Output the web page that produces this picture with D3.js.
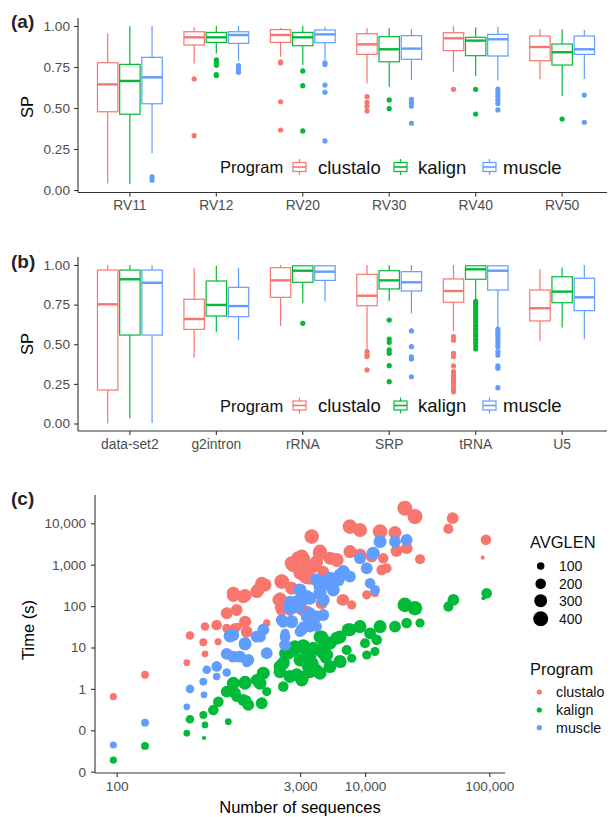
<!DOCTYPE html>
<html><head><meta charset="utf-8">
<script src="https://cdn.jsdelivr.net/npm/d3@7"></script>
<style>
body{margin:0;background:#fff}
svg{display:block}
text{font-family:"Liberation Sans",Arial,Helvetica,sans-serif}
</style>
</head><body><svg id="c" width="612" height="817"></svg>
<script>
// ---------------- DATA ----------------
const programs = ["clustalo", "kalign", "muscle"];
const colors = ["#F8766D", "#00BA38", "#619CFF"];

const catsA = ["RV11", "RV12", "RV20", "RV30", "RV40", "RV50"];
const catsB = ["data-set2", "g2intron", "rRNA", "SRP", "tRNA", "U5"];
const spTicks = [0, 0.25, 0.5, 0.75, 1];
const spTickLabels = ["0.00", "0.25", "0.50", "0.75", "1.00"];

// box stats: [whiskerLow, q1, median, q3, whiskerHigh]
const statsA_clustalo = [[0.04,0.477,0.644,0.776,0.955],[0.772,0.884,0.931,0.965,0.992],[0.813,0.90,0.945,0.978,0.988],[0.65,0.827,0.888,0.953,0.986],[0.721,0.85,0.925,0.959,1.0],[0.675,0.788,0.872,0.939,0.98]];
const statsA_kalign   = [[0.037,0.462,0.665,0.766,1.0],[0.833,0.90,0.931,0.961,1.0],[0.762,0.88,0.931,0.961,1.0],[0.63,0.782,0.858,0.935,0.986],[0.695,0.819,0.911,0.931,0.992],[0.575,0.762,0.84,0.89,0.98]];
const statsA_muscle   = [[0.224,0.526,0.687,0.809,1.0],[0.788,0.894,0.945,0.965,1.0],[0.793,0.898,0.949,0.976,0.996],[0.671,0.797,0.862,0.941,0.98],[0.667,0.817,0.919,0.949,0.996],[0.677,0.827,0.858,0.939,0.976]];
const outA_clustalo = [[],[0.677,0.331],[0.782,0.775,0.538,0.366],[0.569,0.535,0.51,0.482],[0.614],[]];
const outA_kalign   = [[],[0.793,0.776,0.76,0.703,0.698],[0.726,0.636,0.36],[0.549,0.496],[0.614,0.463],[0.433]];
const outA_muscle   = [[0.08,0.06],[0.758,0.74,0.718],[0.776,0.765,0.64,0.596,0.299],[0.553,0.53,0.512,0.407],[0.616,0.595,0.572,0.55,0.528,0.488],[0.579,0.413]];

const statsB_clustalo = [[0.0,0.211,0.752,0.968,1.0],[0.415,0.594,0.659,0.784,0.979],[0.615,0.796,0.903,0.983,1.0],[0.464,0.743,0.806,0.941,1.0],[0.584,0.765,0.836,0.912,1.0],[0.52,0.647,0.727,0.842,0.973]];
const statsB_kalign   = [[0.033,0.558,0.91,0.968,1.0],[0.579,0.678,0.748,0.899,0.995],[0.758,0.891,0.964,0.995,1.0],[0.773,0.849,0.903,0.964,1.0],[0.784,0.91,0.973,0.995,1.0],[0.605,0.762,0.832,0.926,0.985]];
const statsB_muscle   = [[0.003,0.558,0.888,0.968,1.0],[0.527,0.674,0.741,0.859,0.983],[0.769,0.903,0.958,0.995,1.0],[0.695,0.836,0.891,0.958,1.0],[0.605,0.842,0.964,0.995,1.0],[0.531,0.712,0.796,0.916,1.0]];
const outB_clustalo = [[],[],[],[0.453,0.436,0.422,0.338],[0.548,0.526,0.443,0.422,0.363,0.327,0.306,0.289,0.274,0.254,0.232,0.211,0.2],[]];
const outB_kalign   = [[],[],[0.632],[0.653,0.533,0.512,0.464,0.443,0.365,0.264],[0.77,0.755,0.74,0.72,0.705,0.69,0.67,0.655,0.64,0.62,0.60,0.585,0.565,0.55,0.53,0.51,0.49,0.47],[]];
const outB_muscle   = [[],[],[],[0.584,0.485,0.42,0.407,0.295],[0.595,0.574,0.56,0.548,0.526,0.505,0.485,0.453,0.432,0.363,0.349,0.226],[]];

// scatter: [number of sequences, time (s), AVGLEN]
const clustaloPts = [[94,0.65,90],[169,2.2,110],[367,4.3,80],[389,19.4,130],[498,13.4,110],[514,7.0,80],[514,32,130],[638,35,200],[655,13.8,90],[769,29,150],[869,180,300],[1080,180,300],[925,74,150],[769,67,250],[952,32,100],[1114,42,150],[1380,246,300],[1563,325,300],[1340,20,100],[1614,39,100],[2133,391,350],[2643,990,380],[3090,1570,350],[2483,296,150],[2133,141,250],[2483,74,150],[3390,472,250],[3716,4775,380],[4335,2072,350],[4070,1188,300],[4600,681,250],[20900,23200,400],[25200,14500,400],[50700,13300,250],[46800,7330,180],[94000,3980,200],[88500,1480,30],[27700,1360,180],[7550,8320,380],[9100,6920,350],[13200,6310,380],[17400,5960,300],[17900,2150,250],[21600,2510,250],[7550,2070,300],[5900,1306,350],[3280,516,300],[11300,1570,250],[13600,749,200],[14900,822,180],[9100,1725,300],[2190,391,250],[10300,187,150],[12000,205,120],[6490,141,200],[7800,107,150],[4470,117,250],[3280,74,200],[2900,1436,350],[3390,681,300],[2000,141,250],[2065,97,200],[14000,1436,200],
  [4335,1896,380],[3180,1306,380],[2564,1087,350],[5218,1435,300],[3828,900,300],[2991,623,300],[3600,472,300],[2131,391,380],[2564,271,300],[1471,357,300],[1341,224,300],[2065,155,250],[2131,81,250],[3088,81,250],[3387,74,250],[1046,170,300],[869,205,300],[925,81,250],[1079,42,250],[897,29,200],[1113,24,250],[6675,141,250]];
const kalignPts = [[94,0.019,90],[169,0.042,110],[367,0.085,80],[389,0.185,130],[505,0.065,30],[514,0.135,80],[498,0.235,110],[600,0.31,200],[658,0.49,200],[792,0.162,80],[769,0.86,250],[869,1.37,250],[1080,1.45,300],[1114,0.54,150],[925,0.65,200],[1340,1.65,250],[1469,0.43,80],[1614,0.86,150],[1514,2.4,300],[2065,3.46,300],[2193,1.14,200],[2643,8.7,350],[3180,10.5,380],[2483,2,300],[3090,1.65,300],[3490,3.46,300],[4335,18,300],[4600,7.3,300],[3390,6,300],[4070,2.9,250],[3180,2,250],[20900,107,380],[25200,89,380],[27700,39,150],[21600,39,200],[17400,32,250],[13200,32,300],[51400,141,250],[46800,97,180],[95300,205,200],[89600,155,30],[9100,32,300],[7550,27,300],[6280,18,300],[10970,22,250],[12400,15.3,200],[9980,12.7,180],[7110,8.7,180],[4470,18,300],[5210,12.7,300],[4335,8.7,300],[3600,7.3,300],[2266,7.3,250],[6490,4.2,150],[7800,5.5,150],[10300,6.6,150],[12000,8,150],[4780,5.5,200],[3830,4.2,200],[2990,5.0,300],
  [7322,27,300],[5906,16.8,300],[4607,15.3,300],[3828,9.6,300],[2727,10.5,300],[2408,7.3,300],[3600,6.0,300],[4908,6.6,300],[6280,4.6,300],[2195,4.2,300],[2065,2.6,300],[2814,2.2,300],[3600,2.6,300],[4335,2.4,300],[5218,3.46,300],[1425,1.37,300],[1079,1.37,300],[869,1.37,300],[1046,0.54,250],[897,0.79,250],[1147,0.41,250],[1471,0.45,250]];
const musclePts = [[94,0.044,90],[169,0.153,110],[367,0.37,80],[389,1.0,130],[505,0.72,80],[498,1.5,110],[531,2.9,130],[638,3.5,200],[769,7,250],[817,19,300],[1080,12.2,300],[952,6.0,200],[1114,4.3,150],[1340,18.3,250],[1614,7,150],[769,2.5,130],[638,2.0,100],[1514,26.6,200],[2133,46,250],[2266,18,200],[2643,97,350],[3090,141,380],[3390,170,300],[2990,24,200],[4335,296,300],[4600,141,300],[3600,67,250],[4070,32,200],[13200,3610,300],[17400,3610,250],[21600,3980,250],[9100,1436,250],[11600,1896,300],[6680,681,300],[6080,430,300],[10300,822,250],[4070,430,300],[5210,325,300],[2990,246,300],[2483,128,250],[4335,205,300],[7550,516,250],[10970,357,200],[12000,246,180],[2900,97,300],[3390,56,200],[3180,32,200],[3830,39,200],[2266,22,150],
  [4335,391,300],[5218,472,300],[6280,567,300],[5546,246,300],[3600,155,300],[2814,128,300],[2485,89,300],[3387,56,250],[4077,56,250],[4607,61,250],[2195,42,250],[2564,42,300],[3088,27,250],[3600,32,250],[2266,11.6,250],[1515,27,250],[1425,18.3,250],[1079,12.7,250],[869,20,250],[1147,5.0,250],[984,6.0,250],[1614,7.3,250],[869,6.0,250]];

const xTicksC = [100, 3000, 10000, 100000];
const xTickLabelsC = ["100", "3,000", "10,000", "100,000"];
const yTicksC = [0.01, 0.1, 1, 10, 100, 1000, 10000];
const yTickLabelsC = ["0", "0", "1", "10", "100", "1,000", "10,000"];
const sizeLegendValues = [100, 200, 300, 400];

// ---------------- DRAW ----------------
const svg = d3.select("#c");
const AX = "#333333", TXT = "#4D4D4D";

function styleAxis(g, fs) {
  g.select(".domain").remove();
  g.selectAll(".tick line").attr("stroke", AX).attr("stroke-width", 1.1);
  g.selectAll(".tick text").attr("fill", TXT).style("font-size", fs + "px");
}

function boxPanel(cats, statsList, outList, yBottom, yTop, axisTop, axisY, legendY, tag, tagY, spY) {
  const x = d3.scaleBand().domain(cats).range([78, 614]).paddingInner(0).paddingOuter(0.1);
  const inner = d3.scaleBand().domain(programs).range([-32.4, 32.4]).paddingInner(0.08);
  const y = d3.scaleLinear().domain([0, 1]).range([yBottom, yTop]);
  const bw = inner.bandwidth();
  const g = svg.append("g");

  programs.forEach((p, pi) => {
    const col = colors[pi];
    cats.forEach((c, ci) => {
      const s = statsList[pi][ci];
      const cx = x(c) + x.bandwidth() / 2 + inner(p) + bw / 2;
      g.append("line").attr("x1", cx).attr("x2", cx).attr("y1", y(s[4])).attr("y2", y(s[3])).attr("stroke", col).attr("stroke-width", 1.2);
      g.append("line").attr("x1", cx).attr("x2", cx).attr("y1", y(s[1])).attr("y2", y(s[0])).attr("stroke", col).attr("stroke-width", 1.2);
      g.append("rect").attr("x", cx - bw / 2).attr("y", y(s[3])).attr("width", bw).attr("height", y(s[1]) - y(s[3]))
        .attr("fill", "#fff").attr("stroke", col).attr("stroke-width", 1.2);
      g.append("line").attr("x1", cx - bw / 2).attr("x2", cx + bw / 2).attr("y1", y(s[2])).attr("y2", y(s[2])).attr("stroke", col).attr("stroke-width", 2.4);
      g.selectAll(null).data(outList[pi][ci]).enter().append("circle")
        .attr("cx", cx).attr("cy", d => y(d)).attr("r", 2.6).attr("fill", col);
    });
  });

  // axes
  const ya = svg.append("g").attr("transform", "translate(78,0)")
    .call(d3.axisLeft(y).tickValues(spTicks).tickFormat((d, i) => spTickLabels[i]).tickSize(4).tickPadding(4));
  styleAxis(ya, 13.6);
  const xa = svg.append("g").attr("transform", `translate(0,${axisY})`)
    .call(d3.axisBottom(x).tickSize(4).tickPadding(4));
  styleAxis(xa, 13.8);
  svg.append("line").attr("x1", 78).attr("x2", 78).attr("y1", axisTop).attr("y2", axisY).attr("stroke", AX).attr("stroke-width", 1.1);
  svg.append("line").attr("x1", 78).attr("x2", 607).attr("y1", axisY).attr("y2", axisY).attr("stroke", AX).attr("stroke-width", 1.1);

  svg.append("text").attr("transform", `translate(33,${spY}) rotate(-90)`).attr("text-anchor", "middle")
    .style("font-size", "16.5px").attr("fill", "#000").text("SP");
  svg.append("text").attr("x", 11).attr("y", tagY).style("font-size", "19px").style("font-weight", "bold").attr("fill", "#222").text(tag);

  // legend
  svg.append("text").attr("x", 220).attr("y", legendY + 6).style("font-size", "16.5px").attr("fill", "#111").text("Program");
  const keyX = [293, 394, 483], labX = [318, 418, 503];
  programs.forEach((p, i) => {
    const kx = keyX[i], col = colors[i];
    const lg = svg.append("g");
    lg.append("line").attr("x1", kx + 6.5).attr("x2", kx + 6.5).attr("y1", legendY - 8).attr("y2", legendY + 8).attr("stroke", col).attr("stroke-width", 1.2);
    lg.append("rect").attr("x", kx).attr("y", legendY - 4.5).attr("width", 13).attr("height", 9).attr("fill", "#fff").attr("stroke", col).attr("stroke-width", 1.2);
    lg.append("line").attr("x1", kx).attr("x2", kx + 13).attr("y1", legendY).attr("y2", legendY).attr("stroke", col).attr("stroke-width", 1.6);
    svg.append("text").attr("x", labX[i]).attr("y", legendY + 6.5).style("font-size", "18.5px").attr("fill", "#111").text(p);
  });
}

boxPanel(catsA, [statsA_clustalo, statsA_kalign, statsA_muscle], [outA_clustalo, outA_kalign, outA_muscle],
  190, 26, 18, 192.5, 167, "(a)", 28, 107);
boxPanel(catsB, [statsB_clustalo, statsB_kalign, statsB_muscle], [outB_clustalo, outB_kalign, outB_muscle],
  423.5, 265, 257, 431, 405.5, "(b)", 268, 344);

// ---------- panel (c) ----------
const xc = d3.scaleLog().domain([100, 100000]).range([116.7, 489.3]);
const yc = d3.scaleLog().domain([0.01, 10000]).range([771.7, 523.3]);
const rc = d3.scaleSqrt().domain([0, 400]).range([0, 7.5]);
const gc = svg.append("g");
[clustaloPts, kalignPts, musclePts].forEach((pts, i) => {
  gc.selectAll(null).data(pts).enter().append("circle")
    .attr("cx", d => xc(d[0])).attr("cy", d => yc(d[1])).attr("r", d => rc(d[2]))
    .attr("fill", colors[i]);
});
const yca = svg.append("g").attr("transform", "translate(95,0)")
  .call(d3.axisLeft(yc).tickValues(yTicksC).tickFormat((d, i) => yTickLabelsC[i]).tickSize(4).tickPadding(5));
styleAxis(yca, 13.6);
const xca = svg.append("g").attr("transform", "translate(0,773)")
  .call(d3.axisBottom(xc).tickValues(xTicksC).tickFormat((d, i) => xTickLabelsC[i]).tickSize(4).tickPadding(4));
styleAxis(xca, 13.6);
svg.append("line").attr("x1", 95).attr("x2", 95).attr("y1", 495).attr("y2", 773).attr("stroke", AX).attr("stroke-width", 1.1);
svg.append("line").attr("x1", 95).attr("x2", 505).attr("y1", 773).attr("y2", 773).attr("stroke", AX).attr("stroke-width", 1.1);
svg.append("text").attr("x", 11).attr("y", 505).style("font-size", "19px").style("font-weight", "bold").attr("fill", "#222").text("(c)");
svg.append("text").attr("transform", "translate(34,630) rotate(-90)").attr("text-anchor", "middle")
  .style("font-size", "16.5px").attr("fill", "#000").text("Time (s)");
svg.append("text").attr("x", 300).attr("y", 813).attr("text-anchor", "middle")
  .style("font-size", "16.5px").attr("fill", "#000").text("Number of sequences");

// legends (c)
svg.append("text").attr("x", 530).attr("y", 547.5).style("font-size", "16.5px").attr("fill", "#111").text("AVGLEN");
const sizeY = [566, 583.7, 600.7, 618.7];
sizeLegendValues.forEach((v, i) => {
  svg.append("circle").attr("cx", 540.7).attr("cy", sizeY[i]).attr("r", rc(v)).attr("fill", "#000");
  svg.append("text").attr("x", 559).attr("y", sizeY[i] + 5).style("font-size", "14px").attr("fill", "#111").text(v);
});
svg.append("text").attr("x", 530).attr("y", 674.5).style("font-size", "16.5px").attr("fill", "#111").text("Program");
const progY = [692, 710, 727.7];
programs.forEach((p, i) => {
  svg.append("circle").attr("cx", 539.3).attr("cy", progY[i]).attr("r", 2.6).attr("fill", colors[i]);
  svg.append("text").attr("x", 556).attr("y", progY[i] + 5).style("font-size", "14.3px").attr("fill", "#111").text(p);
});
</script>
</body></html>
